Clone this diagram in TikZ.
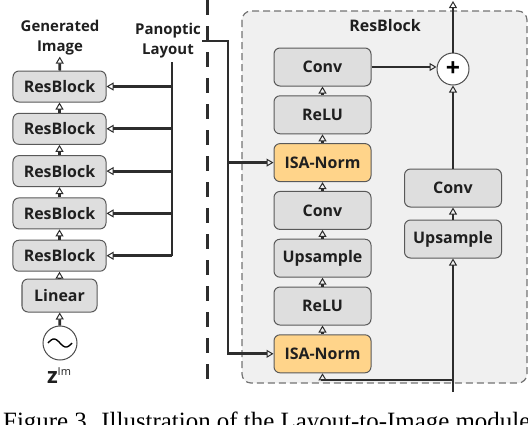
\documentclass[tikz,border=0pt]{standalone}
\usepackage{fontspec}
\setmainfont{Open Sans}
\newfontfamily\capfont{Liberation Serif}
\usetikzlibrary{positioning,arrows.meta}
\definecolor{l2iNorm}{RGB}{255,212,138}
\definecolor{l2iLine}{RGB}{45,45,45}
\tikzset{
  l2i/box/.style={draw=black!65, fill=black!13, rounded corners=6bp, align=center,
                  line width=1bp, inner sep=0pt, font=\fontsize{16}{19}\selectfont\bfseries,
                  text=black!88},
  l2i/small/.style={l2i/box, minimum width=93bp, minimum height=31bp},
  l2i/big/.style={l2i/box, minimum width=97bp, minimum height=38bp},
  l2i/norm/.style={l2i/big, fill=l2iNorm},
  l2i/arrow/.style={-{Triangle[open, length=7bp, width=8bp, line width=1bp]},
                    line width=2.8bp, draw=l2iLine},
  l2i/line/.style={line width=2.8bp, draw=l2iLine},
  l2i/lbl/.style={font=\fontsize{15}{20}\selectfont\bfseries, align=center,
                  text=black!88, inner sep=1bp},
}
\begin{document}
\begin{tikzpicture}[x=1bp, y=-1bp]
  \useasboundingbox (0,0) rectangle (528,424);

  % ---------------- residual block panel ----------------
  \draw[draw=black!55, fill=black!6, dash pattern=on 7bp off 4bp, line width=1.2bp,
        rounded corners=9bp] (242,11) rectangle (527,383);
  \node[l2i/lbl, font=\fontsize{16}{19}\selectfont\bfseries] (rbtitle) at (385,26) {ResBlock};

  \draw[l2i/line, line width=3bp, dash pattern=on 15bp off 11bp] (207,0) -- (207,383);

  % ---------------- generator stack ----------------
  \node[l2i/small] (rb1) at (59.5,86.5) {ResBlock};
  \node[l2i/small, below=10.3bp of rb1] (rb2) {ResBlock};
  \node[l2i/small, below=10.3bp of rb2] (rb3) {ResBlock};
  \node[l2i/small, below=10.3bp of rb3] (rb4) {ResBlock};
  \node[l2i/small, below=10.3bp of rb4] (rb5) {ResBlock};
  \node[l2i/small, minimum width=75bp, minimum height=33bp] (linear) at (59.5,295.5) {Linear};
  \node[circle, draw=black!70, fill=white, line width=1bp, minimum size=34bp,
        inner sep=0pt] (noise) at (60,343) {};
  \draw[line width=1.4bp, shift={(noise.center)}, domain=-12:12, samples=40, smooth,
        variable=\t] plot ({\t},{4*sin(\t*15)});
  \node[anchor=base, inner sep=0pt, text=black!88] (zlabel) at (59,383)
    {\fontsize{22}{24}\selectfont\bfseries z\raisebox{8bp}{\fontsize{11}{12}\selectfont\mdseries Im}};

  \node[l2i/lbl] (gen) at (60,38) {Generated\\Image};
  \node[l2i/lbl] (layout) at (168,41) {Panoptic\\Layout};

  \draw[l2i/arrow] (noise) -- (linear);
  \draw[l2i/arrow] (linear) -- (rb5);
  \draw[l2i/arrow] (rb5) -- (rb4);
  \draw[l2i/arrow] (rb4) -- (rb3);
  \draw[l2i/arrow] (rb3) -- (rb2);
  \draw[l2i/arrow] (rb2) -- (rb1);
  \draw[l2i/arrow] (rb1) -- (gen);

  % ---------------- layout feed ----------------
  \coordinate (trunk) at (172,62);
  \draw[l2i/line] (trunk) -- (trunk |- rb5);
  \foreach \b in {rb1,rb2,rb3,rb4,rb5}
    \draw[l2i/arrow] (trunk |- \b) -- (\b);

  % ---------------- main branch ----------------
  \node[l2i/big] (conv1) at (322.5,67) {Conv};
  \node[l2i/big, below=8.8bp of conv1] (relu1) {ReLU};
  \node[l2i/norm, below=8.8bp of relu1] (isa1) {ISA-Norm};
  \node[l2i/big, below=8.8bp of isa1] (conv2) {Conv};
  \node[l2i/big, below=8.8bp of conv2] (up1) {Upsample};
  \node[l2i/big, below=8.8bp of up1] (relu2) {ReLU};
  \node[l2i/norm, below=8.8bp of relu2] (isa2) {ISA-Norm};

  \draw[l2i/arrow] (isa2) -- (relu2);
  \draw[l2i/arrow] (relu2) -- (up1);
  \draw[l2i/arrow] (up1) -- (conv2);
  \draw[l2i/arrow] (conv2) -- (isa1);
  \draw[l2i/arrow] (isa1) -- (relu1);
  \draw[l2i/arrow] (relu1) -- (conv1);

  \coordinate (bus) at (228,0);
  \draw[l2i/arrow] (layout.east) -| (bus |- isa2) -- (isa2);
  \draw[l2i/arrow] (bus |- isa1) -- (isa1);

  % ---------------- skip branch ----------------
  \node[circle, draw=black!70, fill=white, line width=1bp, minimum size=32bp,
        inner sep=0pt, font=\fontsize{25}{25}\selectfont\bfseries] (sum) at (453,69) {+};
  \node[l2i/big] (rconv) at (453,188) {Conv};
  \node[l2i/big, below=12bp of rconv] (rup) {Upsample};
  \coordinate (out) at (453,1);
  \coordinate (in) at (453,392);
  \coordinate (split) at (453,380);

  \draw[l2i/arrow] (conv1) -- (conv1 -| sum.west);
  \draw[l2i/arrow] (sum) -- (out);
  \draw[l2i/arrow] (rconv) -- (sum);
  \draw[l2i/arrow] (rup) -- (rconv);
  \draw[l2i/arrow] (in) -- (rup);
  \draw[l2i/arrow] (split) -| (isa2);

  % ---------------- caption ----------------
  \node[anchor=base west, inner sep=0pt, font=\capfont\fontsize{25}{30}\selectfont] (caption)
    at (3,429) {Figure 3. Illustration of the Layout-to-Image module};

\end{tikzpicture}
\end{document}
